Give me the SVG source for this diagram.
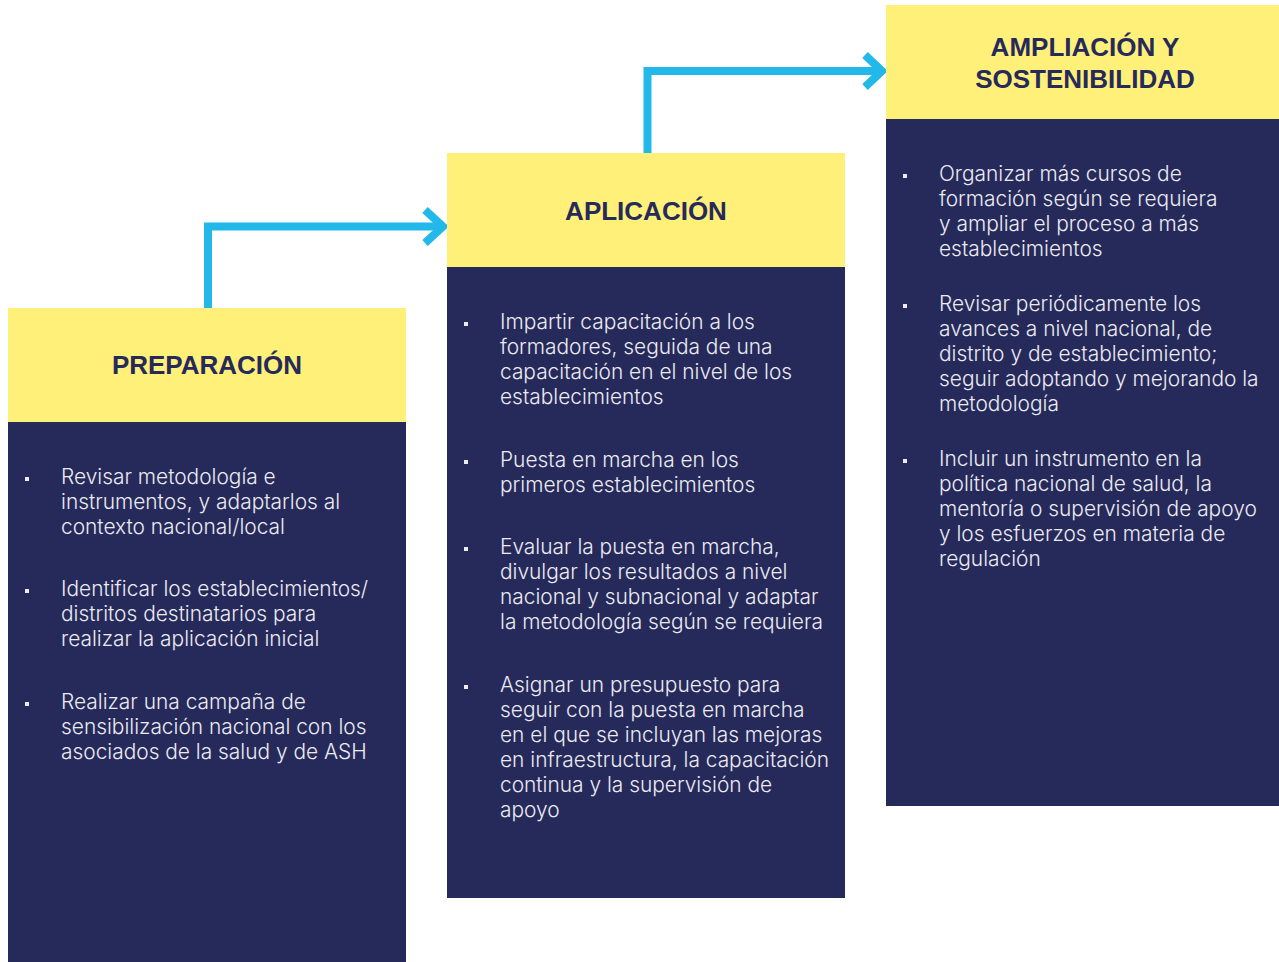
<svg xmlns="http://www.w3.org/2000/svg" width="1279" height="962" viewBox="0 0 1279 962">
<defs>
<style>
.hd{fill:#fff079}
.bd{fill:#262a5a}
.tt{font-family:"Liberation Sans",Arial,sans-serif;font-weight:bold;font-size:26px;fill:#262a5a;text-anchor:middle}
.tx{font-family:Inter,"Liberation Sans",sans-serif;font-weight:300;font-size:20.9px;fill:#ecebf2}
.bl{fill:#ecebf2}
.ar{fill:none;stroke:#22b8ea;stroke-width:8;stroke-linecap:butt;stroke-linejoin:miter}
</style>
</defs>
<rect width="1279" height="962" fill="#ffffff"/>
<g id="connectors">
<path class="ar" d="M208 308 V226.5 H443"/>
<path class="ar" d="M425 210 L443 226.5 L425 243"/>
<path class="ar" d="M647.5 153 V71 H882"/>
<path class="ar" d="M865 55 L882 71 L865 87"/>
</g>
<g id="preparacion">
<rect class="hd" x="8" y="308" width="398" height="114"/>
<rect class="bd" x="8" y="422" width="398" height="540"/>
<text class="tt" x="207" y="374">PREPARACIÓN</text>
<rect class="bl" x="25" y="477" width="4" height="4"/>
<text class="tx" x="61" y="484"><tspan x="61">Revisar metodología e</tspan><tspan x="61" dy="25">instrumentos, y adaptarlos al</tspan><tspan x="61" dy="25">contexto nacional/local</tspan></text>
<rect class="bl" x="25" y="589" width="4" height="4"/>
<text class="tx" x="61" y="596"><tspan x="61">Identificar los establecimientos/</tspan><tspan x="61" dy="25">distritos destinatarios para</tspan><tspan x="61" dy="25">realizar la aplicación inicial</tspan></text>
<rect class="bl" x="25" y="702" width="4" height="4"/>
<text class="tx" x="61" y="709"><tspan x="61">Realizar una campaña de</tspan><tspan x="61" dy="25">sensibilización nacional con los</tspan><tspan x="61" dy="25">asociados de la salud y de ASH</tspan></text>
</g>
<g id="aplicacion">
<rect class="hd" x="447" y="153" width="398" height="114"/>
<rect class="bd" x="447" y="267" width="398" height="631"/>
<text class="tt" x="646" y="220">APLICACIÓN</text>
<rect class="bl" x="464" y="322" width="4" height="4"/>
<text class="tx" x="500" y="329"><tspan x="500">Impartir capacitación a los</tspan><tspan x="500" dy="25">formadores, seguida de una</tspan><tspan x="500" dy="25">capacitación en el nivel de los</tspan><tspan x="500" dy="25">establecimientos</tspan></text>
<rect class="bl" x="464" y="460" width="4" height="4"/>
<text class="tx" x="500" y="467"><tspan x="500">Puesta en marcha en los</tspan><tspan x="500" dy="25">primeros establecimientos</tspan></text>
<rect class="bl" x="464" y="547" width="4" height="4"/>
<text class="tx" x="500" y="554"><tspan x="500">Evaluar la puesta en marcha,</tspan><tspan x="500" dy="25">divulgar los resultados a nivel</tspan><tspan x="500" dy="25">nacional y subnacional y adaptar</tspan><tspan x="500" dy="25">la metodología según se requiera</tspan></text>
<rect class="bl" x="464" y="685" width="4" height="4"/>
<text class="tx" x="500" y="692"><tspan x="500">Asignar un presupuesto para</tspan><tspan x="500" dy="25">seguir con la puesta en marcha</tspan><tspan x="500" dy="25">en el que se incluyan las mejoras</tspan><tspan x="500" dy="25">en infraestructura, la capacitación</tspan><tspan x="500" dy="25">continua y la supervisión de</tspan><tspan x="500" dy="25">apoyo</tspan></text>
</g>
<g id="ampliacion">
<rect class="hd" x="886" y="5" width="393" height="114"/>
<rect class="bd" x="886" y="119" width="393" height="687"/>
<text class="tt" x="1085" y="56">AMPLIACIÓN Y</text>
<text class="tt" x="1085" y="88">SOSTENIBILIDAD</text>
<rect class="bl" x="903" y="174" width="4" height="4"/>
<text class="tx" x="939" y="181"><tspan x="939">Organizar más cursos de</tspan><tspan x="939" dy="25">formación según se requiera</tspan><tspan x="939" dy="25">y ampliar el proceso a más</tspan><tspan x="939" dy="25">establecimientos</tspan></text>
<rect class="bl" x="903" y="304" width="4" height="4"/>
<text class="tx" x="939" y="311"><tspan x="939">Revisar periódicamente los</tspan><tspan x="939" dy="25">avances a nivel nacional, de</tspan><tspan x="939" dy="25">distrito y de establecimiento;</tspan><tspan x="939" dy="25">seguir adoptando y mejorando la</tspan><tspan x="939" dy="25">metodología</tspan></text>
<rect class="bl" x="903" y="459" width="4" height="4"/>
<text class="tx" x="939" y="466"><tspan x="939">Incluir un instrumento en la</tspan><tspan x="939" dy="25">política nacional de salud, la</tspan><tspan x="939" dy="25">mentoría o supervisión de apoyo</tspan><tspan x="939" dy="25">y los esfuerzos en materia de</tspan><tspan x="939" dy="25">regulación</tspan></text>
</g>
</svg>
